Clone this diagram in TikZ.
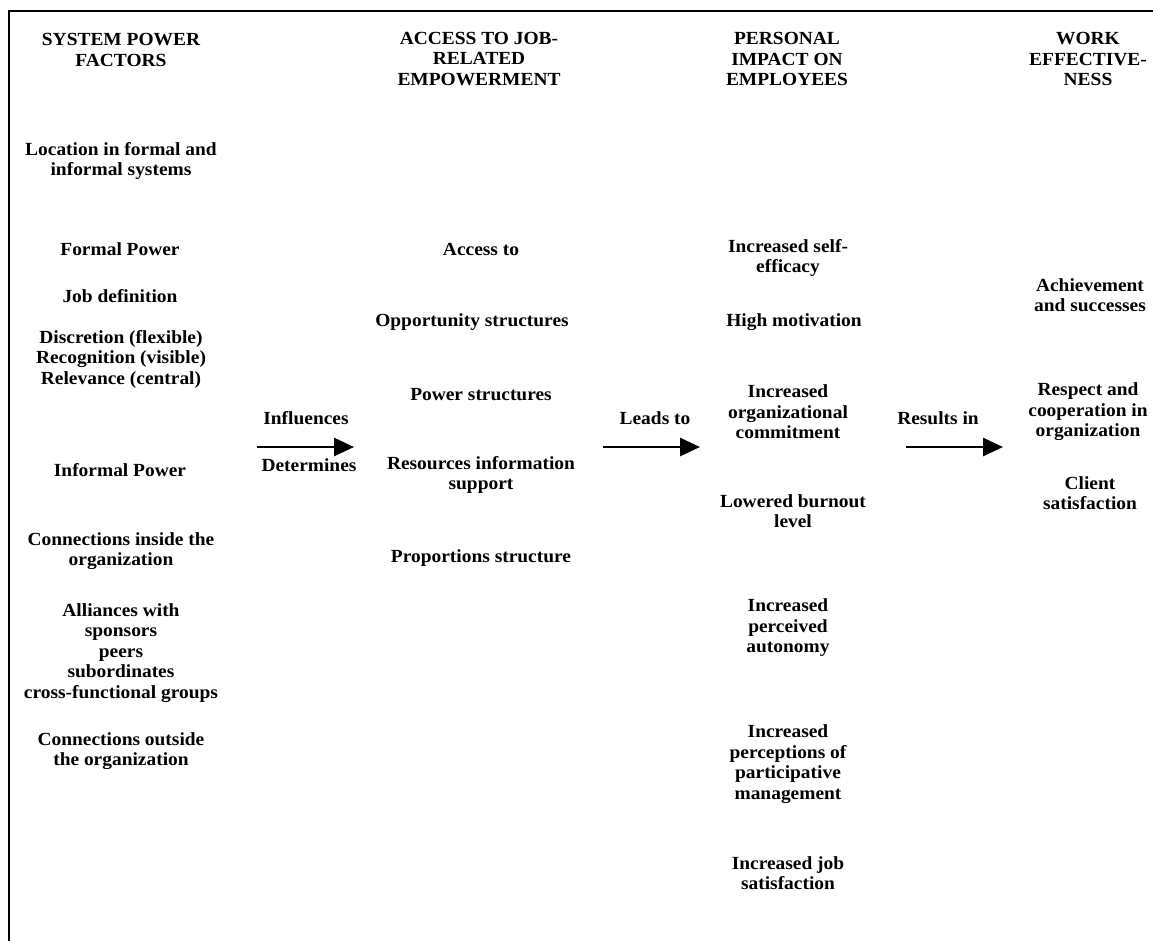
\documentclass[tikz,border=0pt]{standalone}
\usepackage{fontspec}
\setmainfont{Liberation Serif}[FakeStretch=1.05]
\usetikzlibrary{arrows.meta}
\tikzset{
  txt/.style={align=center, inner sep=0pt, font=\fontsize{18.5}{20.5}\selectfont\bfseries},
  flow/.style={line width=2.8pt, -{Triangle[length=20pt,width=18pt]}},
  frame/.style={line width=2pt}
}
\begin{document}
\begin{tikzpicture}[x=1pt,y=-1pt]
\useasboundingbox (0,0) rectangle (1153,941);
\coordinate (tr) at (1153,11);
\coordinate (tl) at (9,11);
\coordinate (bl) at (9,941);
\draw[frame] (tr) -- (tl) -- (bl);

% column 1
\node[txt] (h1) at (121,50) {SYSTEM POWER\\FACTORS};
\node[txt] (c1a) at (121,161) {Location in formal and\\informal systems};
\node[txt] (c1b) at (120,249) {Formal Power};
\node[txt] (c1c) at (120,296) {Job definition};
\node[txt] (c1d) at (121,359) {Discretion (flexible)\\Recognition (visible)\\Relevance (central)};
\node[txt] (c1e) at (120,470) {Informal Power};
\node[txt] (c1f) at (121,551) {Connections inside the\\organization};
\node[txt] (c1g) at (121,653) {Alliances with\\sponsors\\peers\\subordinates\\cross-functional groups};
\node[txt] (c1h) at (121,751) {Connections outside\\the organization};

% column 2
\node[txt] (h2) at (479,59) {ACCESS TO JOB-\\RELATED\\EMPOWERMENT};
\node[txt] (c2a) at (481,249) {Access to};
\node[txt] (c2b) at (472,322) {Opportunity structures};
\node[txt] (c2c) at (481,395) {Power structures};
\node[txt] (c2d) at (481,475) {Resources information\\support};
\node[txt] (c2e) at (481,558) {Proportions structure};

% column 3
\node[txt] (h3) at (787,59) {PERSONAL\\IMPACT ON\\EMPLOYEES};
\node[txt] (c3a) at (788,258) {Increased self-\\efficacy};
\node[txt] (c3b) at (794,322) {High motivation};
\node[txt] (c3c) at (788,412) {Increased\\organizational\\commitment};
\node[txt] (c3d) at (793,511) {Lowered burnout\\level};
\node[txt] (c3e) at (788,628) {Increased\\perceived\\autonomy};
\node[txt] (c3f) at (788,764) {Increased\\perceptions of\\participative\\management};
\node[txt] (c3g) at (788,873) {Increased job\\satisfaction};

% column 4
\node[txt] (h4) at (1088,59) {WORK\\EFFECTIVE-\\NESS};
\node[txt] (c4a) at (1090,295) {Achievement\\and successes};
\node[txt] (c4b) at (1088,412) {Respect and\\cooperation in\\organization};
\node[txt] (c4c) at (1090,493) {Client\\satisfaction};

% arrows
\node[txt] (l1) at (306,418) {Influences};
\node[txt] (l1b) at (309,465) {Determines};
\coordinate (a1s) at (257,447);
\coordinate (a1e) at (354,447);
\draw[flow] (a1s) -- (a1e);

\node[txt] (l2) at (655,418) {Leads to};
\coordinate (a2s) at (603,447);
\coordinate (a2e) at (700,447);
\draw[flow] (a2s) -- (a2e);

\node[txt] (l3) at (938,418) {Results in};
\coordinate (a3s) at (906,447);
\coordinate (a3e) at (1003,447);
\draw[flow] (a3s) -- (a3e);
\end{tikzpicture}
\end{document}
